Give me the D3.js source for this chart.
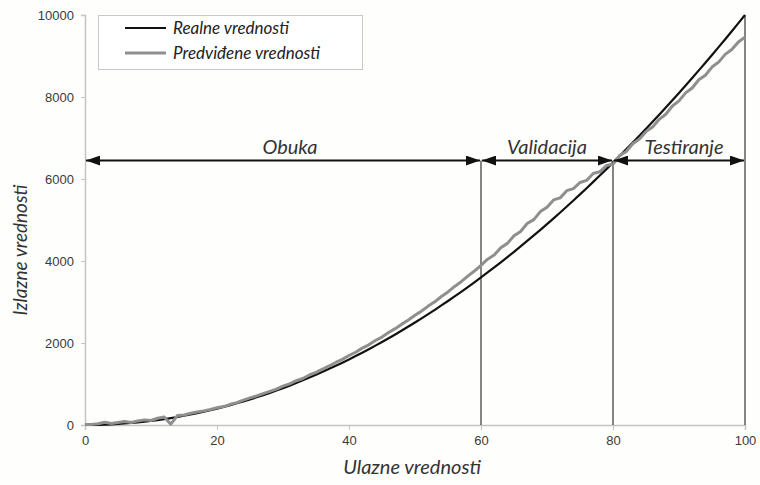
<!DOCTYPE html>
<html>
<head>
<meta charset="utf-8">
<script src="https://cdn.jsdelivr.net/npm/d3@7"></script>
<style>
  html, body { margin: 0; padding: 0; background: #fff; }
  svg { display: block; }
</style>
</head>
<body>
<svg id="chart" width="760" height="485"></svg>
<script>
// Input values (x)
const inputs = [
  0, 1, 2, 3, 4, 5, 6, 7, 8, 9,
  10, 11, 12, 13, 14, 15, 16, 17, 18, 19,
  20, 21, 22, 23, 24, 25, 26, 27, 28, 29,
  30, 31, 32, 33, 34, 35, 36, 37, 38, 39,
  40, 41, 42, 43, 44, 45, 46, 47, 48, 49,
  50, 51, 52, 53, 54, 55, 56, 57, 58, 59,
  60, 61, 62, 63, 64, 65, 66, 67, 68, 69,
  70, 71, 72, 73, 74, 75, 76, 77, 78, 79,
  80, 81, 82, 83, 84, 85, 86, 87, 88, 89,
  90, 91, 92, 93, 94, 95, 96, 97, 98, 99,
  100
];

// Real output values
const realValues = [
  0, 1, 4, 9, 16, 25, 36, 49, 64, 81,
  100, 121, 144, 169, 196, 225, 256, 289, 324, 361,
  400, 441, 484, 529, 576, 625, 676, 729, 784, 841,
  900, 961, 1024, 1089, 1156, 1225, 1296, 1369, 1444, 1521,
  1600, 1681, 1764, 1849, 1936, 2025, 2116, 2209, 2304, 2401,
  2500, 2601, 2704, 2809, 2916, 3025, 3136, 3249, 3364, 3481,
  3600, 3721, 3844, 3969, 4096, 4225, 4356, 4489, 4624, 4761,
  4900, 5041, 5184, 5329, 5476, 5625, 5776, 5929, 6084, 6241,
  6400, 6561, 6724, 6889, 7056, 7225, 7396, 7569, 7744, 7921,
  8100, 8281, 8464, 8649, 8836, 9025, 9216, 9409, 9604, 9801,
  10000
];

// Predicted output values
const predictedValues = [
  10, 15, 30, 65, 35, 60, 85, 60, 100, 125,
  110, 165, 195, 20, 230, 245, 285, 315, 345, 380,
  420, 450, 505, 545, 605, 660, 710, 765, 820, 875,
  950, 1005, 1080, 1135, 1220, 1285, 1365, 1440, 1525, 1600,
  1695, 1775, 1875, 1955, 2060, 2145, 2255, 2350, 2460, 2560,
  2675, 2780, 2900, 3005, 3135, 3245, 3380, 3495, 3630, 3755,
  3895, 4045, 4145, 4325, 4430, 4615, 4720, 4915, 5010, 5205,
  5310, 5490, 5540, 5715, 5765, 5915, 5965, 6135, 6175, 6330,
  6360, 6570, 6670, 6860, 6975, 7155, 7270, 7455, 7580, 7780,
  7905, 8100, 8220, 8420, 8530, 8730, 8850, 9040, 9160, 9340,
  9460
];

// Phase boundaries and names for the annotation arrows
const phaseBounds = [0, 60, 80, 100];
const phaseNames = ["Obuka", "Validacija", "Testiranje"];
const arrowLevel = 6450;

// Axis ticks
const xTicks = [0, 20, 40, 60, 80, 100];
const yTicks = [0, 2000, 4000, 6000, 8000, 10000];

const seriesNames = ["Realne vrednosti", "Predviđene vrednosti"];
const seriesColors = ["#111111", "#8f8f8f"];

const svg = d3.select("#chart");
const margin = { top: 15, right: 15, bottom: 60, left: 85 };
const W = 760, H = 485;

const x = d3.scaleLinear().domain([0, 100]).range([margin.left, W - margin.right]);
const y = d3.scaleLinear().domain([0, 10000]).range([H - margin.bottom, margin.top]);

svg.append("rect").attr("width", W).attr("height", H).attr("fill", "#fefefd");

// Arrow head markers
const defs = svg.append("defs");
defs.append("marker")
  .attr("id", "head")
  .attr("viewBox", "0 0 14 10")
  .attr("refX", 14).attr("refY", 5)
  .attr("markerWidth", 14).attr("markerHeight", 10)
  .attr("markerUnits", "userSpaceOnUse")
  .attr("orient", "auto-start-reverse")
  .append("path")
  .attr("d", "M0,0 L14,5 L0,10 Z")
  .attr("fill", "#111");

// Axes
const tickFont = "'Liberation Sans', Arial, sans-serif";
const xAxis = svg.append("g")
  .attr("transform", `translate(0,${y(0)})`)
  .call(d3.axisBottom(x).tickValues(xTicks).tickSize(5).tickPadding(6).tickFormat(d3.format("d")));
const yAxis = svg.append("g")
  .attr("transform", `translate(${x(0)},0)`)
  .call(d3.axisLeft(y).tickValues(yTicks).tickSize(4).tickPadding(7).tickFormat(d3.format("d")));
[xAxis, yAxis].forEach(g => {
  g.select(".domain").attr("stroke", "#c4c4c4").attr("stroke-width", 1.5);
  g.selectAll(".tick line").attr("stroke", "#c4c4c4");
  g.selectAll(".tick text")
    .attr("fill", "#3a3a3a")
    .style("font-family", tickFont)
    .style("font-size", "13px");
});

// Phase boundary verticals
svg.append("g").selectAll("line")
  .data(phaseBounds.slice(1))
  .join("line")
  .attr("x1", d => x(d)).attr("x2", d => x(d))
  .attr("y1", d => d === 100 ? y(10000) : y(arrowLevel))
  .attr("y2", y(0))
  .attr("stroke", "#333")
  .attr("stroke-width", 1.2);

// Data lines
const pts = (vals) => inputs.map((v, i) => [v, vals[i]]);
const line = d3.line().x(d => x(d[0])).y(d => y(d[1]));

svg.append("path")
  .datum(pts(realValues))
  .attr("d", line)
  .attr("fill", "none")
  .attr("stroke", seriesColors[0])
  .attr("stroke-width", 2.2)
  .attr("stroke-linejoin", "round");

svg.append("path")
  .datum(pts(predictedValues))
  .attr("d", line)
  .attr("fill", "none")
  .attr("stroke", seriesColors[1])
  .attr("stroke-width", 3)
  .attr("stroke-linejoin", "round");

// Phase arrows
const phases = phaseNames.map((name, i) => ({ name, a: phaseBounds[i], b: phaseBounds[i + 1] }));
const labelShift = [7, 0, 5];
const labelFont = "Lato, 'Open Sans', sans-serif";
const ag = svg.append("g");
ag.selectAll("line")
  .data(phases)
  .join("line")
  .attr("x1", d => x(d.a) + 1).attr("x2", d => x(d.b) - 1)
  .attr("y1", y(arrowLevel)).attr("y2", y(arrowLevel))
  .attr("stroke", "#111")
  .attr("stroke-width", 2)
  .attr("marker-start", "url(#head)")
  .attr("marker-end", "url(#head)");
ag.selectAll("text")
  .data(phases)
  .join("text")
  .attr("x", (d, i) => (x(d.a) + x(d.b)) / 2 + labelShift[i])
  .attr("y", y(arrowLevel) - 7)
  .attr("text-anchor", "middle")
  .attr("fill", "#333")
  .style("font-family", labelFont)
  .style("font-style", "italic")
  .style("font-size", "20px")
  .text(d => d.name);

// Legend
const lg = svg.append("g");
lg.append("rect")
  .attr("x", 98.5).attr("y", 15.5)
  .attr("width", 264).attr("height", 54)
  .attr("fill", "#fff")
  .attr("stroke", "#c8c8c8");
seriesNames.forEach((name, i) => {
  const cy = 28 + i * 25;
  lg.append("line")
    .attr("x1", 125).attr("x2", 166)
    .attr("y1", cy).attr("y2", cy)
    .attr("stroke", seriesColors[i])
    .attr("stroke-width", i === 0 ? 2 : 3);
  lg.append("text")
    .attr("x", 173).attr("y", cy + 6)
    .attr("fill", "#222")
    .style("font-family", labelFont)
    .style("font-style", "italic")
    .style("font-size", "17px")
    .text(name);
});

// Axis titles
svg.append("text")
  .attr("x", 412)
  .attr("y", 474)
  .attr("text-anchor", "middle")
  .attr("fill", "#333")
  .style("font-family", labelFont)
  .style("font-style", "italic")
  .style("font-size", "20px")
  .text("Ulazne vrednosti");

svg.append("text")
  .attr("transform", `translate(27,${250}) rotate(-90)`)
  .attr("text-anchor", "middle")
  .attr("fill", "#333")
  .style("font-family", labelFont)
  .style("font-style", "italic")
  .style("font-size", "19px")
  .text("Izlazne vrednosti");
</script>
</body>
</html>
